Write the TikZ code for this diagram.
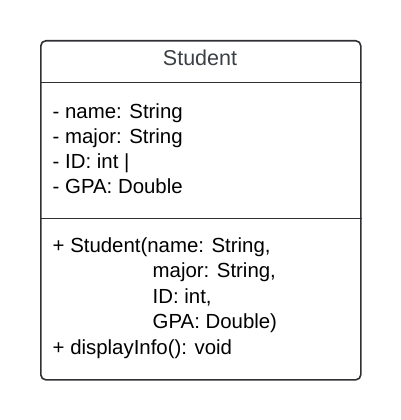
\documentclass[tikz,border=0pt]{standalone}
\usepackage{fontspec}
\setmainfont{Liberation Sans}
\usetikzlibrary{positioning}
\definecolor{umlline}{HTML}{2E3033}
\definecolor{umltitle}{HTML}{3A3F45}

\begin{document}
\begin{tikzpicture}[x=1pt,y=-1pt]
    \tikzstyle{umlbox}=[draw=umlline, line width=1.6pt, rounded corners=5pt, minimum width=320pt, minimum height=339pt, inner sep=0pt]
    \tikzstyle{divider}=[draw=umlline, line width=1.6pt]
    \tikzstyle{member}=[anchor=base west, inner sep=0pt, font=\fontsize{20.4}{24}\selectfont]
    \useasboundingbox (0,0) rectangle (400,420);
    % class box
    \node[umlbox, anchor=north west] (student) at (40,40) {};
    \node[anchor=base, inner sep=0pt, text=umltitle, font=\fontsize{21.5}{26}\selectfont] (title) at (200,65.5) {Student};
    \coordinate (div1) at (40,82.5);
    \coordinate (div2) at (40,218.5);
    \draw[divider] (div1) -- (div1 -| student.east);
    \draw[divider] (div2) -- (div2 -| student.east);
    % attributes
    \node[member] (name) at (52.5,118) {- name: String};
    \node[member, below=25pt of name.base west, anchor=base west] (major) {- major: String};
    \node[member, below=25pt of major.base west, anchor=base west] (id) {- ID: int |};
    \node[member, below=25pt of id.base west, anchor=base west] (gpa) {- GPA: Double};
    % operations
    \node[member] (ctor) at (52.5,252) {+ Student(name: String,};
    \node[member] (pmajor) at (152.5,277.5) {major: String,};
    \node[member, below=25.5pt of pmajor.base west, anchor=base west] (pid) {ID: int,};
    \node[member, below=25.5pt of pid.base west, anchor=base west] (pgpa) {GPA: Double)};
    \node[member, below=102pt of ctor.base west, anchor=base west] (display) {+ displayInfo(): void};
\end{tikzpicture}
\end{document}
